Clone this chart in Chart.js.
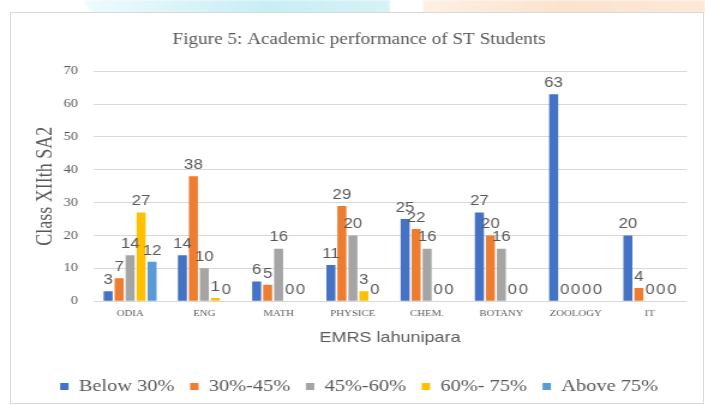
<!DOCTYPE html>
<html>
<head>
<meta charset="utf-8">
<script src="https://cdn.jsdelivr.net/npm/chart.js@4.4.1/dist/chart.umd.min.js"></script>
<style>
  html, body { margin: 0; padding: 0; background: #fff; overflow: hidden; }
  body { width: 705px; height: 405px; position: relative; }
  .blob-cyan {
    position: absolute; left: 85px; top: 0; width: 305px; height: 14px;
    background: linear-gradient(to right, #eefbfd, #c8eef4 60%, #d6f3f7);
    border-bottom-left-radius: 40px; filter: blur(1px);
  }
  .blob-peach {
    position: absolute; left: 423px; top: 0; width: 282px; height: 14px;
    background: linear-gradient(to right, #fdf0e4, #fce3cd 50%, #fde9d8);
    filter: blur(1px);
  }
  .frame {
    position: absolute; left: 10px; top: 12px; width: 692px; height: 390px;
    border: 1px solid #d9d9d9; background: #fff;
  }
  #wrap {
    position: absolute; left: 0; top: 0; width: 588px; height: 405px;
    transform: scaleX(1.2); transform-origin: 0 0;
  }
</style>
</head>
<body>
<div class="blob-cyan"></div>
<div class="blob-peach"></div>
<div class="frame"></div>
<div id="wrap"><canvas id="chart"></canvas></div>
<script>
// Figure 5: Academic performance of ST Students (EMRS lahunipara, Class XIIth SA2)

const subjects = ['ODIA', 'ENG', 'MATH', 'PHYSICE', 'CHEM.', 'BOTANY', 'ZOOLOGY', 'IT'];
const yTicks = [0, 10, 20, 30, 40, 50, 60, 70];

const below30  = [3, 14, 6, 11, 25, 27, 63, 20];
const from30to45 = [7, 38, 5, 29, 22, 20, 0, 4];
const from45to60 = [14, 10, 16, 20, 16, 16, 0, 0];
const from60to75 = [27, 1, 0, 3, 0, 0, 0, 0];
const above75  = [12, 0, 0, 0, 0, 0, 0, 0];

const seriesNames = ['Below 30%', '30%-45%', '45%-60%', '60%- 75%', 'Above 75%'];
const seriesColors = ['#4472c4', '#ed7d31', '#a5a5a5', '#ffc000', '#5b9bd5'];

const textGray = '#595959';
const gridGray = '#d9d9d9';
const serif = '"Liberation Serif", "Times New Roman", serif';
const sans = '"Liberation Sans", Arial, sans-serif';

Chart.defaults.font.family = serif;

// value labels above every bar, like the Excel data labels
const barLabels = {
  id: 'barLabels',
  afterDatasetsDraw(chart) {
    const { ctx } = chart;
    ctx.save();
    ctx.font = '14px ' + sans;
    ctx.fillStyle = textGray;
    ctx.textAlign = 'center';
    ctx.textBaseline = 'bottom';
    chart.data.datasets.forEach((ds, i) => {
      const meta = chart.getDatasetMeta(i);
      meta.data.forEach((bar, j) => {
        ctx.fillText(String(ds.data[j]), bar.x, bar.y - 4);
      });
    });
    ctx.restore();
  },
};

const seriesData = [below30, from30to45, from45to60, from60to75, above75];

new Chart(document.getElementById('chart').getContext('2d'), {
  type: 'bar',
  data: {
    labels: subjects,
    datasets: seriesData.map((d, i) => ({
      label: seriesNames[i],
      data: d,
      backgroundColor: seriesColors[i],
      borderWidth: 0,
      categoryPercentage: 0.74,
      barPercentage: 0.82,
    })),
  },
  plugins: [barLabels],
  options: {
    responsive: true,
    maintainAspectRatio: false,
    animation: false,
    layout: { padding: { top: 20, left: 26, right: 15.5, bottom: 0 } },
    plugins: {
      title: {
        display: true,
        text: 'Figure 5: Academic performance of ST Students',
        color: textGray,
        font: { family: serif, size: 16, weight: 'normal' },
        padding: { top: 10, bottom: 22 },
      },
      legend: {
        display: true,
        position: 'bottom',
        labels: {
          color: textGray,
          font: { family: serif, size: 17, weight: 'normal' },
          boxWidth: 7,
          boxHeight: 7,
          padding: 13,
        },
      },
      tooltip: { enabled: false },
    },
    scales: {
      x: {
        grid: { display: false, drawTicks: false },
        border: { display: false },
        ticks: {
          color: textGray,
          font: { family: serif, size: 9 },
          padding: 7,
          maxRotation: 0,
          autoSkip: false,
        },
        title: {
          display: true,
          text: 'EMRS lahunipara',
          color: textGray,
          font: { family: sans, size: 15 },
          padding: { top: 3, bottom: 18 },
        },
      },
      y: {
        min: 0,
        max: 70,
        afterBuildTicks: (axis) => { axis.ticks = yTicks.map(v => ({ value: v })); },
        afterFit: (axis) => { axis.width = 51.5; },
        grid: { color: gridGray, lineWidth: 1, drawTicks: false },
        border: { display: false },
        ticks: {
          color: textGray,
          font: { family: serif, size: 12 },
          padding: 12.5,
        },
        title: {
          display: true,
          text: 'Class XIIth SA2',
          color: textGray,
          font: { family: serif, size: 18 },
          padding: { top: 1, bottom: 0 },
        },
      },
    },
  },
});
</script>
</body>
</html>
